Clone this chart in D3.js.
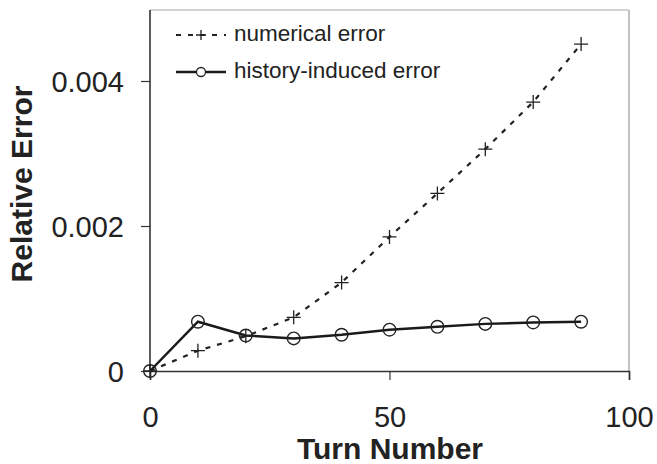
<!DOCTYPE html>
<html><head><meta charset="utf-8">
<script src="https://cdn.jsdelivr.net/npm/d3@7"></script>
<style>body{margin:0;background:#fff;} text{font-family:Arial,"Liberation Sans",sans-serif;fill:#222;}</style>
</head><body><svg id="c" width="657" height="464"></svg>
<script>
const turns = [0,10,20,30,40,50,60,70,80,90];
const numericalError = [0,0.00028,0.00048,0.00074,0.00122,0.00185,0.00245,0.00306,0.00371,0.00451];
const historyError = [0,0.00068,0.00049,0.00045,0.00050,0.00057,0.00061,0.00065,0.00067,0.00068];
const xTicks = [0,50,100];
const yTicks = [0,0.002,0.004];
const yTickLabels = ["0","0.002","0.004"];

const svg = d3.select("#c");
const L=150, R=629, T=10, B=371;
const x = d3.scaleLinear().domain([0,100]).range([L,R]);
const y = d3.scaleLinear().domain([0,0.005]).range([B,8.5]);

// frame top/right
svg.append("line").attr("x1",L).attr("x2",R).attr("y1",T).attr("y2",T).attr("stroke","#aaa").attr("stroke-width",1.2);
svg.append("line").attr("x1",R).attr("x2",R).attr("y1",T).attr("y2",B).attr("stroke","#999").attr("stroke-width",1.2);

// axes
const xAxis = d3.axisBottom(x).tickValues(xTicks).tickSize(9).tickFormat(d3.format("d"));
const gx = svg.append("g").attr("transform",`translate(0,${B})`).call(xAxis);
gx.select(".domain").attr("stroke","#333").attr("stroke-width",1.6);
gx.selectAll(".tick line").attr("stroke","#333").attr("stroke-width",1.2);
gx.selectAll(".tick text").attr("font-size",29).attr("dy",0).attr("y",56).style("font-family","Arial,'Liberation Sans',sans-serif").attr("fill","#222");

const yAxis = d3.axisLeft(y).tickValues(yTicks).tickSize(9).tickFormat((d,i)=>yTickLabels[i]);
const gy = svg.append("g").attr("transform",`translate(${L},0)`).call(yAxis);
gy.select(".domain").attr("stroke","#333").attr("stroke-width",1.6).attr("d",`M0,${B}V${T}`);
gy.selectAll(".tick line").attr("stroke","#333").attr("stroke-width",1.2);
gy.selectAll(".tick text").attr("font-size",29).attr("x",-26).attr("dy","0.35em").style("font-family","Arial,'Liberation Sans',sans-serif").attr("fill","#222");

// titles
svg.append("text").attr("x",390).attr("y",459).attr("text-anchor","middle").attr("font-size",30).attr("font-weight","bold").text("Turn Number");
svg.append("text").attr("transform","translate(32,184) rotate(-90)").attr("text-anchor","middle").attr("font-size",30).attr("font-weight","bold").text("Relative Error");

const line = d3.line().x((d,i)=>x(turns[i])).y(d=>y(d));
svg.append("path").datum(numericalError).attr("d",line).attr("fill","none").attr("stroke","#222").attr("stroke-width",2.2).attr("stroke-dasharray","5,7");
svg.append("path").datum(historyError).attr("d",line).attr("fill","none").attr("stroke","#1a1a1a").attr("stroke-width",2.5);

function plus(g,cx,cy,s){
  g.append("path").attr("d",`M${cx-s},${cy}H${cx+s}M${cx},${cy-s}V${cy+s}`).attr("stroke","#222").attr("stroke-width",1.3).attr("fill","none");
}
const gp = svg.append("g");
numericalError.forEach((v,i)=>plus(gp,x(turns[i]),y(v),7));
svg.append("g").selectAll("circle").data(historyError).join("circle")
  .attr("cx",(d,i)=>x(turns[i])).attr("cy",d=>y(d)).attr("r",6.3)
  .attr("fill","none").attr("stroke","#222").attr("stroke-width",1.4);

// legend
const lg = svg.append("g");
lg.append("line").attr("x1",176).attr("x2",226).attr("y1",35).attr("y2",35).attr("stroke","#222").attr("stroke-width",2.2).attr("stroke-dasharray","5,7");
plus(lg,201,35,5);
lg.append("text").attr("x",234).attr("y",41).attr("font-size",22.5).text("numerical error");
lg.append("line").attr("x1",176).attr("x2",226).attr("y1",72).attr("y2",72).attr("stroke","#1a1a1a").attr("stroke-width",2.5);
lg.append("circle").attr("cx",201).attr("cy",72).attr("r",4.5).attr("fill","#fff").attr("stroke","#222").attr("stroke-width",1.3);
lg.append("text").attr("x",234).attr("y",78).attr("font-size",22.5).text("history-induced error");
</script></body></html>
